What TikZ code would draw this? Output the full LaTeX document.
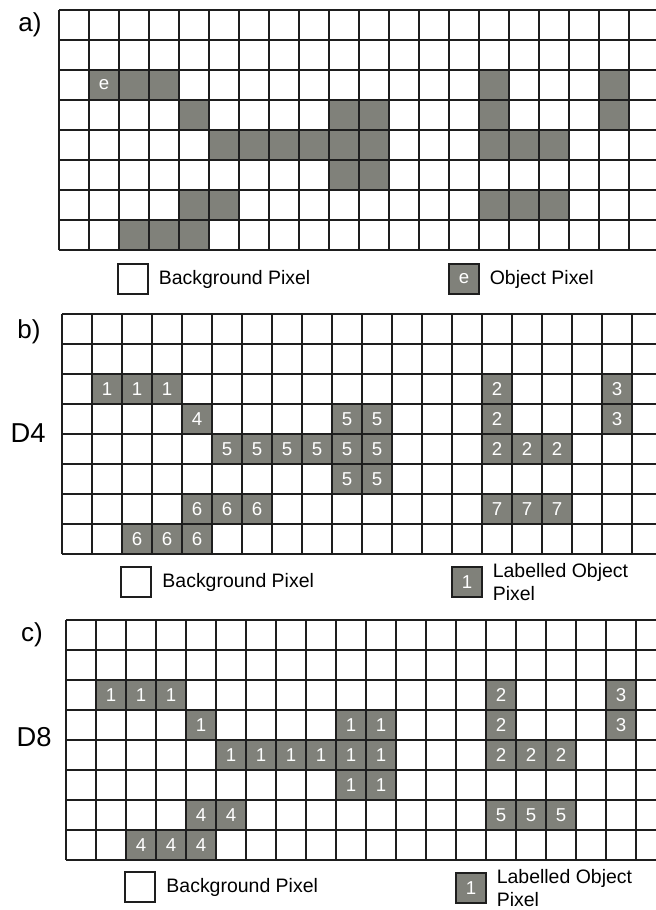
\documentclass[tikz,border=0pt]{standalone}
\usepackage{fontspec}
\setmainfont{Liberation Sans}
\usepackage{xcolor}
\definecolor{objgray}{RGB}{128,129,122}
\definecolor{gridblack}{RGB}{30,30,30}
\usetikzlibrary{positioning}

\begin{document}
\begin{tikzpicture}[x=0.75pt, y=-0.75pt,
	gridline/.style={draw=gridblack, line width=0.8pt},
	objpix/.style={rectangle, fill=objgray, minimum size=22.5pt, inner sep=0pt,
	               text=white, font=\fontsize{14}{14}\selectfont},
	legbox/.style={rectangle, draw=gridblack, line width=0.8pt, minimum size=22.5pt,
	               inner sep=0pt, text=white, font=\fontsize{14}{14}\selectfont},
	legtext/.style={inner sep=0pt, align=left, font=\fontsize{14.6}{17.3}\selectfont},
	panel/.style={inner sep=0pt, font=\fontsize{19.5}{20}\selectfont},
	conn/.style={inner sep=0pt, font=\fontsize{20.5}{22}\selectfont}
	]
\clip (0,0) rectangle (656,910);

% a) binary image
\node[panel] (pa) at (30,25) {a)};
\begin{scope}[x=22.5pt, y=-22.5pt, xshift=44.25pt, yshift=-7.5pt]
	\node[objpix] (a-1-2) at (1.5,2.5) {e};
	\foreach \c/\r in {2/2, 3/2, 14/2, 18/2, 4/3, 9/3, 10/3, 14/3, 18/3,
	                   5/4, 6/4, 7/4, 8/4, 9/4, 10/4, 14/4, 15/4, 16/4,
	                   9/5, 10/5, 4/6, 5/6, 14/6, 15/6, 16/6, 2/7, 3/7, 4/7}
		\node[objpix] (a-\c-\r) at (\c+0.5,\r+0.5) {};
	\foreach \i in {0,...,20} \draw[gridline] (\i,0) -- (\i,8);
	\foreach \j in {0,...,8} \draw[gridline] (0,\j) -- (20,\j);
\end{scope}
\node[legbox, fill=white] (bgA) at (133,279) {};
\node[legtext, right=7.5pt of bgA] (bgAt) {Background Pixel};
\node[legbox, fill=objgray] (obA) at (464,279) {e};
\node[legtext, right=7.5pt of obA] (obAt) {Object Pixel};

% b) D4 labelling
\node[panel] (pb) at (29,332) {b)};
\node[conn] (d4) at (28,433) {D4};
\begin{scope}[x=22.5pt, y=-22.5pt, xshift=46.5pt, yshift=-235.5pt]
	\foreach \c/\r/\l in {1/2/1, 2/2/1, 3/2/1, 14/2/2, 18/2/3,
	                      4/3/4, 9/3/5, 10/3/5, 14/3/2, 18/3/3,
	                      5/4/5, 6/4/5, 7/4/5, 8/4/5, 9/4/5, 10/4/5, 14/4/2, 15/4/2, 16/4/2,
	                      9/5/5, 10/5/5,
	                      4/6/6, 5/6/6, 6/6/6, 14/6/7, 15/6/7, 16/6/7,
	                      2/7/6, 3/7/6, 4/7/6}
		\node[objpix] (b-\c-\r) at (\c+0.5,\r+0.5) {\l};
	\foreach \i in {0,...,20} \draw[gridline] (\i,0) -- (\i,8);
	\foreach \j in {0,...,8} \draw[gridline] (0,\j) -- (20,\j);
\end{scope}
\node[legbox, fill=white] (bgB) at (136,582) {};
\node[legtext, right=8pt of bgB] (bgBt) {Background Pixel};
\node[legbox, fill=objgray] (obB) at (467,582) {1};
\node[legtext, right=7.5pt of obB] (obBt) {Labelled Object\\Pixel};

% c) D8 labelling
\node[panel] (pc) at (32,635) {c)};
\node[conn] (d8) at (34,737) {D8};
\begin{scope}[x=22.5pt, y=-22.5pt, xshift=49.5pt, yshift=-465pt]
	\foreach \c/\r/\l in {1/2/1, 2/2/1, 3/2/1, 14/2/2, 18/2/3,
	                      4/3/1, 9/3/1, 10/3/1, 14/3/2, 18/3/3,
	                      5/4/1, 6/4/1, 7/4/1, 8/4/1, 9/4/1, 10/4/1, 14/4/2, 15/4/2, 16/4/2,
	                      9/5/1, 10/5/1,
	                      4/6/4, 5/6/4, 14/6/5, 15/6/5, 16/6/5,
	                      2/7/4, 3/7/4, 4/7/4}
		\node[objpix] (c-\c-\r) at (\c+0.5,\r+0.5) {\l};
	\foreach \i in {0,...,20} \draw[gridline] (\i,0) -- (\i,8);
	\foreach \j in {0,...,8} \draw[gridline] (0,\j) -- (20,\j);
\end{scope}
\node[legbox, fill=white] (bgC) at (140,887) {};
\node[legtext, right=8pt of bgC] (bgCt) {Background Pixel};
\node[legbox, fill=objgray] (obC) at (471,888) {1};
\node[legtext, right=7.5pt of obC] (obCt) {Labelled Object\\Pixel};
\end{tikzpicture}
\end{document}
